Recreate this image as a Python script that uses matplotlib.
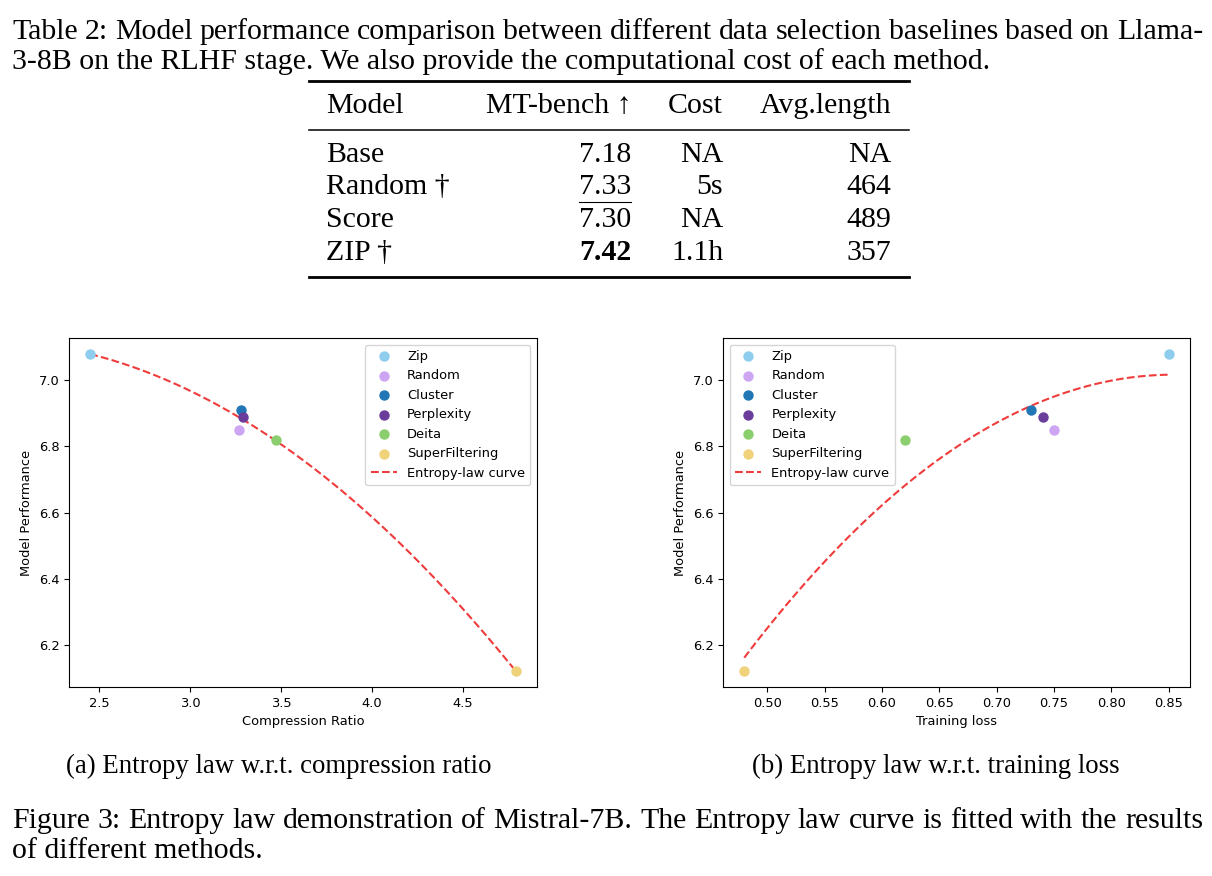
import numpy as np
import matplotlib
matplotlib.use('Agg')
from matplotlib import pyplot as plt
from matplotlib.lines import Line2D

# scatter data (Mistral-7B)
methods = ['Zip', 'Random', 'Cluster', 'Perplexity', 'Deita', 'SuperFiltering']
colors  = ['#8ecdee', '#cda5f3', '#2176b5', '#6a3d9a', '#8ace6e', '#efd27a']
comp_ratio = [2.45, 3.27, 3.28, 3.29, 3.47, 4.79]
train_loss = [0.85, 0.75, 0.73, 0.74, 0.62, 0.48]
perf       = [7.08, 6.85, 6.91, 6.89, 6.82, 6.12]

# table data
tab_cols  = ['Model', 'MT-bench \u2191', 'Cost', 'Avg.length']
tab_model = ['Base', 'Random \u2020', 'Score', 'ZIP \u2020']
tab_mt    = ['7.18', '7.33', '7.30', '7.42']
tab_cost  = ['NA', '5s', 'NA', '1.1h']
tab_len   = ['NA', '464', '489', '357']

W, H = 1212, 876
fig = plt.figure(figsize=(W/100, H/100), dpi=100)
serif = ['Liberation Serif', 'DejaVu Serif']
fs = 21.5
fs_sub = 19.3

def px(x, y):
    return x/W, 1 - y/H

def txt(x, y, s, ha='left', size=fs, **kw):
    return fig.text(*px(x, y), s, ha=ha, va='baseline', family=serif, fontsize=size, **kw)

def justify(x0, x1, y, s):
    # spread the words so the line fills x0..x1 like LaTeX does
    words = s.split(' ')
    r = fig.canvas.get_renderer()
    widths = []
    for w in words:
        t = txt(0, 0, w)
        widths.append(t.get_window_extent(r).width)
        t.remove()
    gap = (x1 - x0 - sum(widths)) / (len(words) - 1)
    x = x0
    for w, wd in zip(words, widths):
        txt(x, y, w)
        x += wd + gap

def hline(x0, x1, y, lw):
    fig.add_artist(Line2D([x0/W, x1/W], [1-y/H, 1-y/H], color='black', lw=lw,
                          transform=fig.transFigure))

#----------------------------------------
# table caption + table
#----------------------------------------
justify(12, 1203, 39, 'Table 2: Model performance comparison between different data selection baselines based on Llama-')
txt(12, 69, '3-8B on the RLHF stage. We also provide the computational cost of each method.')

hline(309, 909, 81, 2.0)
hline(309, 909, 130, 1.1)
hline(309, 909, 277, 2.0)
txt(326, 113, tab_cols[0])
txt(632, 113, tab_cols[1], ha='right')
txt(723, 113, tab_cols[2], ha='right')
txt(891, 113, tab_cols[3], ha='right')
row_y = [162, 194.5, 227, 259.5]
for i in range(4):
    txt(326, row_y[i], tab_model[i])
    txt(631, row_y[i], tab_mt[i], ha='right', weight='bold' if i == 3 else 'normal')
    txt(723, row_y[i], tab_cost[i], ha='right')
    txt(891, row_y[i], tab_len[i], ha='right')
hline(579, 631, 202, 0.8)

#----------------------------------------
# plots
#----------------------------------------
sfs = 9.4
ax1 = fig.add_axes([69/W, 1-687/H, 468/W, 349/H])
ax2 = fig.add_axes([723/W, 1-687/H, 467/W, 349/H])

for ax, xs, xlab, loc in [(ax1, comp_ratio, 'Compression Ratio', 'upper right'),
                          (ax2, train_loss, 'Training loss', 'upper left')]:
    for m, c, x, y in zip(methods, colors, xs, perf):
        ax.scatter(x, y, color=c, s=42, label=m, zorder=3)
    coef = np.polyfit(xs, perf, 2)
    xf = np.linspace(min(xs), max(xs), 200)
    ax.plot(xf, np.polyval(coef, xf), '--', color='#f03c3c', lw=1.5,
            label='Entropy-law curve', zorder=2)
    ax.set_xlabel(xlab, fontsize=sfs)
    ax.set_ylabel('Model Performance', fontsize=sfs)
    ax.tick_params(labelsize=sfs)
    ax.set_yticks([6.2, 6.4, 6.6, 6.8, 7.0])
    ax.legend(loc=loc, fontsize=sfs)

ax2.set_xticks([0.50, 0.55, 0.60, 0.65, 0.70, 0.75, 0.80, 0.85])

#----------------------------------------
# captions
#----------------------------------------
txt(66, 773, '(a) Entropy law w.r.t. compression ratio', size=fs_sub)
txt(752, 773, '(b) Entropy law w.r.t. training loss', size=fs_sub)
justify(12, 1203, 828, 'Figure 3: Entropy law demonstration of Mistral-7B. The Entropy law curve is fitted with the results')
txt(12, 858, 'of different methods.')

plt.savefig('out.png', dpi=100)
